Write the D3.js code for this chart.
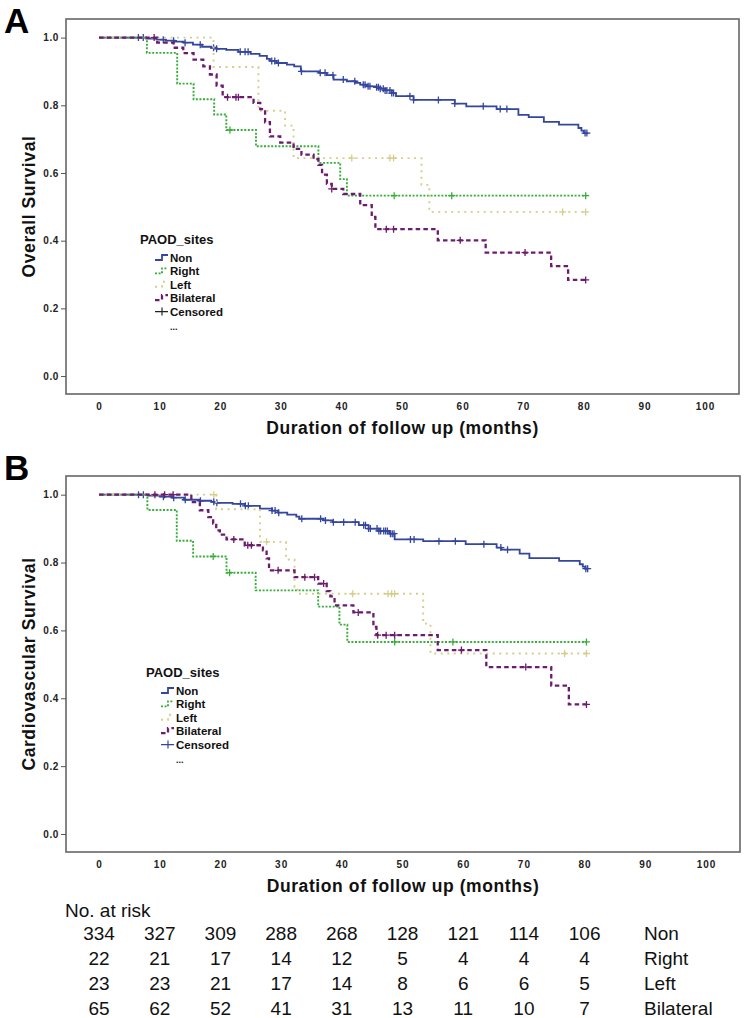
<!DOCTYPE html>
<html><head><meta charset="utf-8">
<script src="https://cdn.jsdelivr.net/npm/d3@7"></script>
<style>
html,body{margin:0;padding:0;background:#fff;}
svg{display:block;font-family:"Liberation Sans",Arial,sans-serif;}
</style></head>
<body>
<svg id="chart" width="745" height="1018"></svg>
<script>
// ---------------- DATA ----------------
const groups = ["Non", "Right", "Left", "Bilateral"];
const xTicks = [0,10,20,30,40,50,60,70,80,90,100];
const yTicks = [0,0.2,0.4,0.6,0.8,1.0];

// Panel A: Overall survival  [month, survival]
const A_non = [[0,1],[7.8,0.997],[9.5,0.994],[11,0.991],[12.5,0.988],[14,0.985],[15.5,0.979],[17,0.973],[18.5,0.970],[19.4,0.967],[21,0.964],[23,0.958],[25,0.952],[26.5,0.946],[27.7,0.937],[28.2,0.931],[29.3,0.925],[31,0.920],[32.2,0.915],[33.3,0.900],[36.3,0.896],[37.6,0.889],[38.7,0.876],[40.9,0.871],[42.3,0.866],[43.1,0.861],[44.2,0.856],[45.8,0.853],[46.4,0.849],[47.2,0.844],[48.3,0.836],[49.0,0.827],[51.9,0.816],[58.7,0.805],[60.6,0.797],[65.6,0.789],[69.2,0.772],[70.9,0.765],[73.4,0.751],[75.9,0.743],[79.1,0.733],[79.6,0.725],[80.0,0.718]];
const A_non_cens = [6.5,7.3,10.6,12.3,14.2,16.7,18.9,19.4,23.3,24.1,24.6,28.5,29.0,29.6,33.4,36.5,37.3,38.6,40.3,42.2,43.6,43.9,44.4,44.7,45.8,46.1,46.4,46.9,47.2,47.5,48.0,48.3,48.6,51.3,51.9,56.0,58.7,63.4,66.2,67.3,80.2,80.5];
const A_right = [[0,1],[7.9,0.955],[12.9,0.864],[15.6,0.818],[19.0,0.773],[21.0,0.727],[25.9,0.679],[36.2,0.630],[39.8,0.582],[40.9,0.533]];
const A_right_cens = [21.6,48.7,58.2,80.3];
const A_left = [[0,1],[18.9,0.913],[26.3,0.784],[30.7,0.740],[32.1,0.644],[53.2,0.565],[54.5,0.485]];
const A_left_cens = [41.7,48.0,48.6,76.5,80.3];
const A_bil = [[0,1],[9.6,0.985],[12.3,0.970],[13.9,0.954],[15.6,0.935],[17.2,0.915],[18.3,0.891],[19.4,0.858],[20.4,0.824],[25.5,0.807],[26.6,0.789],[27.4,0.750],[28.2,0.708],[29.9,0.690],[32.1,0.671],[33.4,0.654],[35.4,0.641],[36.2,0.624],[36.8,0.595],[37.6,0.568],[38.4,0.553],[40.3,0.538],[43.1,0.505],[45.0,0.470],[45.6,0.434],[55.9,0.401],[63.8,0.365],[74.6,0.325],[77.4,0.284]];
const A_bil_cens = [9.1,21.2,22.6,23.0,38.4,47.4,48.6,59.6,70.3,80.3];

// Panel B: Cardiovascular survival  [month, survival]
const B_non = [[0,1],[8,0.997],[10,0.994],[12,0.991],[14,0.985],[16.5,0.982],[18.5,0.979],[19.3,0.976],[22,0.973],[24,0.967],[26.5,0.959],[28.5,0.953],[29.5,0.947],[31,0.941],[32.5,0.935],[33,0.929],[37,0.924],[38.5,0.919],[42.8,0.910],[44.4,0.900],[46.1,0.893],[47.8,0.885],[48.7,0.868],[53.4,0.863],[60.4,0.854],[65.5,0.844],[66.3,0.838],[69.3,0.826],[70.9,0.813],[75.8,0.805],[79.2,0.795],[79.7,0.788],[80.1,0.782]];
const B_non_cens = [6.5,7.3,10.6,12.3,14.2,16.7,18.9,19.4,23.3,24.1,24.6,28.5,29.0,29.6,33.4,36.5,37.3,38.6,40.3,42.2,43.6,43.9,44.4,44.7,45.8,46.1,46.4,46.9,47.2,47.5,48.0,48.3,48.6,51.3,51.9,56.0,58.7,63.4,66.2,67.3,80.2,80.5];
const B_right = [[0,1],[7.96,0.955],[12.8,0.864],[15.5,0.818],[21.0,0.770],[25.8,0.718],[36.1,0.670],[39.6,0.617],[40.9,0.566]];
const B_right_cens = [18.8,21.5,48.7,58.3,80.3];
const B_left = [[0,1],[19.3,0.957],[26.5,0.861],[30.8,0.809],[32.2,0.728],[32.7,0.708],[53.4,0.620],[54.6,0.532]];
const B_left_cens = [18.9,27.6,41.8,47.6,48.2,48.7,76.7,80.3];
const B_bil = [[0,1],[15.2,0.978],[16.6,0.954],[18.0,0.934],[18.8,0.915],[19.3,0.895],[19.9,0.882],[21.0,0.868],[24.0,0.851],[27.0,0.836],[27.6,0.812],[28.0,0.777],[32.2,0.757],[36.1,0.738],[37.5,0.716],[38.1,0.700],[38.8,0.674],[41.9,0.653],[45.2,0.610],[45.7,0.586],[55.8,0.542],[63.8,0.492],[74.5,0.437],[77.4,0.382]];
const B_bil_cens = [9.2,10.8,12.2,22.2,24.5,25.1,29.5,33.9,35.5,37.0,42.7,45.9,47.3,48.7,59.7,70.3,80.3];

const endTime = 80.4;

// Number at risk table
const riskTimes = [0,10,20,30,40,50,60,70,80];
const riskNon = [334,327,309,288,268,128,121,114,106];
const riskRight = [22,21,17,14,12,5,4,4,4];
const riskLeft = [23,23,21,17,14,8,6,6,5];
const riskBilateral = [65,62,52,41,31,13,11,10,7];

// ---------------- STYLE ----------------
const styles = {
  Non:       {color:"#34469e", dash:null,     width:1.8},
  Right:     {color:"#39ad3c", dash:"2,1.6",  width:1.9},
  Left:      {color:"#d6cd8c", dash:"2,4.5",  width:1.9},
  Bilateral: {color:"#6c1c6c", dash:"4.5,3.2",width:2.3}
};

const svg = d3.select("#chart");

function survAt(steps, t){
  let s = steps[0][1];
  for (const p of steps){ if (p[0] <= t) s = p[1]; }
  return s;
}

function drawPanel(cfg){
  const x = d3.scaleLinear().domain([-5.45,105.6]).range([cfg.left,cfg.right]);
  const y = d3.scaleLinear().domain([-0.053,1.055]).range([cfg.bottom,cfg.top]);
  const g = svg.append("g");

  // frame
  g.append("rect").attr("x",cfg.left).attr("y",cfg.top)
    .attr("width",cfg.right-cfg.left).attr("height",cfg.bottom-cfg.top)
    .attr("fill","none").attr("stroke","#666").attr("stroke-width",1.6);

  // y axis ticks
  const yAxis = d3.axisLeft(y).tickValues(yTicks).tickFormat(d3.format(".1f")).tickSize(5).tickPadding(2);
  const ya = g.append("g").attr("transform",`translate(${cfg.left},0)`).call(yAxis);
  ya.select(".domain").remove();
  ya.selectAll("line").attr("stroke","#555");
  ya.selectAll("text").attr("font-size",10).attr("font-weight","bold").attr("fill","#222")
    .attr("letter-spacing","0.6px").attr("font-family","Liberation Sans, Arial, sans-serif");

  // x axis labels
  const xAxis = d3.axisBottom(x).tickValues(xTicks).tickSize(0).tickPadding(9);
  const xa = g.append("g").attr("transform",`translate(0,${cfg.bottom})`).call(xAxis);
  xa.select(".domain").remove();
  xa.selectAll("text").attr("font-size",10).attr("font-weight","bold").attr("fill","#222")
    .attr("letter-spacing","1px").attr("font-family","Liberation Sans, Arial, sans-serif");

  // axis titles
  g.append("text").attr("x",(cfg.left+cfg.right)/2).attr("y",cfg.bottom+40)
    .attr("text-anchor","middle").attr("font-size",17.5).attr("font-weight","bold")
    .attr("letter-spacing","0.6px").attr("fill","#111")
    .text("Duration of follow up (months)");
  g.append("text").attr("transform",`translate(35,${(cfg.top+cfg.bottom)/2}) rotate(-90)`)
    .attr("text-anchor","middle").attr("font-size",17.5).attr("font-weight","bold")
    .attr("letter-spacing","0.6px").attr("fill","#111")
    .text(cfg.ylabel);

  // panel letter
  svg.append("text").attr("x",4).attr("y",cfg.letterY).attr("font-size",35)
    .attr("font-weight","bold").attr("fill","#000")
    .attr("font-family","Liberation Sans, Arial, sans-serif").text(cfg.letter);

  const line = d3.line().x(d=>x(d[0])).y(d=>y(d[1])).curve(d3.curveStepAfter);

  cfg.series.forEach(sr=>{
    const st = styles[sr.name];
    const pts = sr.steps.concat([[endTime, sr.steps[sr.steps.length-1][1]]]);
    g.append("path").datum(pts).attr("d",line)
      .attr("fill","none").attr("stroke",st.color).attr("stroke-width",st.width)
      .attr("stroke-dasharray",st.dash);
    g.selectAll(null).data(sr.cens).enter().append("path")
      .attr("d",t=>{
        const cx=x(t), cy=y(survAt(sr.steps,t));
        return `M${cx-3.5},${cy}H${cx+3.5}M${cx},${cy-3.5}V${cy+3.5}`;
      })
      .attr("stroke",st.color).attr("stroke-width",1.3).attr("fill","none");
  });

  // legend
  const L = cfg.legend;
  g.append("text").attr("x",L.x).attr("y",L.y).attr("dy","0.35em")
    .attr("font-size",13).attr("font-weight","bold").attr("fill","#111").text("PAOD_sites");
  const items = groups.concat(["Censored"]);
  items.forEach((nm,i)=>{
    const cy = L.y + 19 + i*13.4;
    const sx = L.x + 15, tx = L.x + 30;
    if (nm === "Censored"){
      g.append("path").attr("d",`M${sx},${cy}H${sx+13}M${sx+7},${cy-4}V${cy+4}`)
        .attr("stroke",cfg.censColor).attr("stroke-width",1.2).attr("fill","none");
    } else {
      const st = styles[nm];
      g.append("path").attr("d",`M${sx},${cy+2}H${sx+7}V${cy-3}H${sx+13}`)
        .attr("stroke",st.color).attr("stroke-width",st.width)
        .attr("stroke-dasharray",st.dash).attr("fill","none");
    }
    g.append("text").attr("x",tx).attr("y",cy).attr("dy","0.35em")
      .attr("font-size",11.5).attr("font-weight","bold").attr("fill","#111").text(nm);
  });
  g.append("text").attr("x",L.x+30).attr("y",L.y+19+5*13.4+2).attr("dy","0.35em")
    .attr("font-size",9).attr("font-weight","bold").attr("fill","#111").text("...");
  return x;
}

drawPanel({letter:"A", letterY:33, left:66, right:739, top:19, bottom:394,
  ylabel:"Overall Survival", censColor:"#222",
  legend:{x:140, y:239},
  series:[
    {name:"Non", steps:A_non, cens:A_non_cens},
    {name:"Right", steps:A_right, cens:A_right_cens},
    {name:"Left", steps:A_left, cens:A_left_cens},
    {name:"Bilateral", steps:A_bil, cens:A_bil_cens}
  ]});

const xB = drawPanel({letter:"B", letterY:480, left:66, right:740, top:476, bottom:852,
  ylabel:"Cardiovascular Survival", censColor:"#34469e",
  legend:{x:146, y:672},
  series:[
    {name:"Non", steps:B_non, cens:B_non_cens},
    {name:"Right", steps:B_right, cens:B_right_cens},
    {name:"Left", steps:B_left, cens:B_left_cens},
    {name:"Bilateral", steps:B_bil, cens:B_bil_cens}
  ]});

// ---------------- NUMBER AT RISK TABLE ----------------
const tbl = svg.append("g").attr("font-size",19).attr("fill","#111");
tbl.append("text").attr("x",65).attr("y",910).attr("dy","0.35em").text("No. at risk");
const rows = [riskNon, riskRight, riskLeft, riskBilateral];
rows.forEach((r,i)=>{
  const cy = 933.3 + i*25;
  tbl.selectAll(null).data(r).enter().append("text")
    .attr("x",(d,j)=>xB(riskTimes[j])).attr("y",cy).attr("dy","0.35em")
    .attr("text-anchor","middle").text(d=>d);
  tbl.append("text").attr("x",644).attr("y",cy).attr("dy","0.35em").text(groups[i]);
});
</script>
</body></html>
